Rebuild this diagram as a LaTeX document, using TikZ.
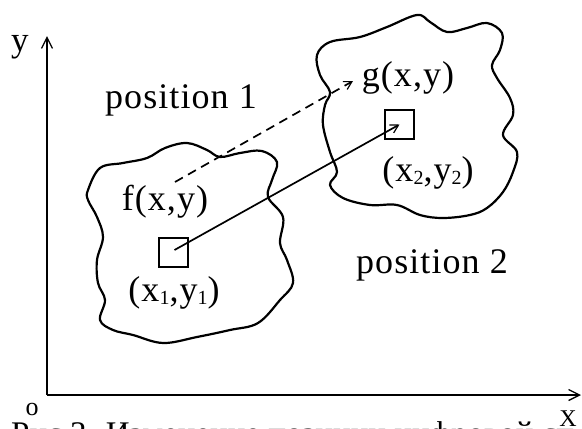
\documentclass[tikz,border=0pt]{standalone}
\usepackage{fontspec}
\setmainfont{Liberation Serif}
\usetikzlibrary{arrows.meta}
\newcommand{\subsc}[1]{\raisebox{-3pt}{\fontsize{20}{22}\selectfont #1}}
\tikzset{
  blob/.style={line width=2.2pt, line join=round},
  axis/.style={line width=2pt, -{Straight Barb[length=11pt,width=11pt,line width=1.3pt]}},
  lbl/.style={inner sep=0pt, font=\fontsize{36}{40}\selectfont\addfontfeature{LetterSpace=3}},
  sq/.style={draw, line width=2pt, minimum size=29pt, inner sep=0pt},
  conn/.style={line width=1.7pt, -{Straight Barb[length=8pt,width=9pt,line width=1.2pt]}},
}
\begin{document}
\begin{tikzpicture}[x=1pt,y=-1pt]
\clip (0,0) rectangle (582,429);
\useasboundingbox (0,0) rectangle (582,429);
% axes
\coordinate (O) at (47,395);
\coordinate (Ytip) at (47,36);
\coordinate (Xtip) at (581,395);
\draw[axis] (O) -- (Ytip);
\draw[axis] (O) -- (Xtip);
\node[inner sep=0pt, font=\fontsize{35}{40}\selectfont] (ylab) at (20,47) {y};
\node[inner sep=0pt, font=\fontsize{26}{30}\selectfont] (olab) at (32,409) {o};
\node[inner sep=0pt, font=\fontsize{24}{28}\selectfont] (xlab) at (568,419) {X};
% caption (cut off at the lower edge, as in the reference)
\node[anchor=base west, inner sep=0pt, font=\fontsize{33}{38}\selectfont] (cap) at (11,444) {Рис.3. Изменение позиции цифровой сп};
% blob 1
\draw[blob] plot[smooth cycle, tension=0.6] coordinates {
(88,190) (100,168) (123,163) (147,158) (165,148) (187,143) (207,150) (220,157)
(240,153) (262,151) (277,162) (272,180) (268,197) (283,217) (280,243) (287,260)
(293,283) (280,300) (258,323) (230,330) (197,337) (163,343) (133,335) (113,330)
(100,320) (105,300) (98,283) (97,260) (103,237) (97,217) (88,200)};
% blob 2
\draw[blob] plot[smooth cycle, tension=0.6] coordinates {
(317,55) (330,42) (360,37) (387,27) (417,15) (430,22) (447,32) (467,28) (487,23)
(502,33) (500,50) (492,65) (497,78) (510,98) (513,115) (503,135) (517,152)
(513,172) (503,192) (487,208) (470,215) (443,218) (420,215) (397,205) (370,205)
(343,198) (330,185) (337,172) (330,152) (323,125) (325,105) (330,92) (320,75)};
% labels
\node[lbl] (pos1) at (181,100) {position 1};
\node[lbl] (pos2) at (432,265) {position 2};
\node[lbl] (f) at (165,202) {f(x,y)};
\node[lbl] (g) at (408,78) {g(x,y)};
\node[lbl] (p1) at (174,293) {(x\subsc{1},y\subsc{1})};
\node[lbl] (p2) at (428,173) {(x\subsc{2},y\subsc{2})};
% squares
\node[sq] (s1) at (173.5,252) {};
\node[sq] (s2) at (399.5,124.5) {};
% connectors
\draw[conn] (s1.center) ++(1,-2) coordinate (a1) (a1) -- (s2.center);
\coordinate (d1) at (175,182);
\coordinate (d2) at (353,81);
\draw[conn, dashed, dash pattern=on 9pt off 6pt] (d1) -- (d2);
\end{tikzpicture}
\end{document}
